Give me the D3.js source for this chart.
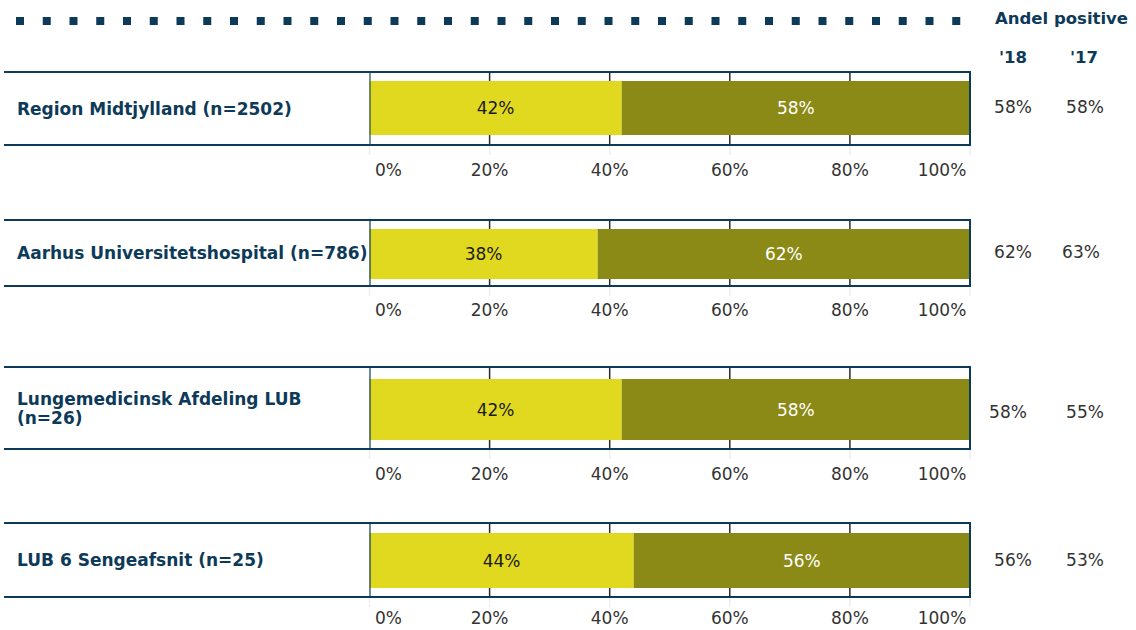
<!DOCTYPE html>
<html><head><meta charset="utf-8">
<script src="https://cdn.jsdelivr.net/npm/d3@7"></script>
<style>body{margin:0;background:#fff}svg{display:block}</style>
</head><body><svg id="c" width="1136" height="630"></svg>
<script>
const categories = [["Region Midtjylland (n=2502)"], ["Aarhus Universitetshospital (n=786)"], ["Lungemedicinsk Afdeling LUB", "(n=26)"], ["LUB 6 Sengeafsnit (n=25)"]];
const negative = [42, 38, 42, 44];
const positive = [58, 62, 58, 56];
const andel18 = [58, 62, 58, 56];
const andel17 = [58, 63, 55, 53];
const ticks = [0, 20, 40, 60, 80, 100];
const colHeaders = ["'18", "'17"];

// layout (pixels)
const panels = [
  {top: 72, bottom: 145, barTop: 81, barBot: 135, tickY: 176, dx: 0, dy: -2},
  {top: 220, bottom: 286, barTop: 229, barBot: 279, tickY: 316, dx: 0, dy: -1},
  {top: 367, bottom: 449, barTop: 379, barBot: 440, tickY: 480, dx: -5, dy: 4},
  {top: 523, bottom: 597, barTop: 533, barBot: 588, tickY: 624, dx: 0, dy: 0}
];
const navy = "#0d3a58", yellow = "#e1d91f", olive = "#8c8a17", txt = "#333";
const svg = d3.select("#c");
const x = d3.scaleLinear().domain([0, 100]).range([369.5, 970]);

// dotted header
const dots = d3.range(0, 36);
svg.selectAll("rect.dot").data(dots).enter().append("rect")
  .attr("x", i => 16 + i * 26.75).attr("y", 17).attr("width", 8).attr("height", 8)
  .attr("fill", navy);

svg.append("text").attr("x", 995).attr("y", 24).attr("fill", navy)
  .attr("font-family", "DejaVu Sans").attr("font-weight", "bold").attr("font-size", 16.5)
  .text("Andel positive");
svg.append("text").attr("x", 1013).attr("y", 63).attr("text-anchor", "middle").attr("fill", navy)
  .attr("font-family", "DejaVu Sans").attr("font-weight", "bold").attr("font-size", 16.5).text(colHeaders[0]);
svg.append("text").attr("x", 1084).attr("y", 63).attr("text-anchor", "middle").attr("fill", navy)
  .attr("font-family", "DejaVu Sans").attr("font-weight", "bold").attr("font-size", 16.5).text(colHeaders[1]);

panels.forEach((p, i) => {
  const g = svg.append("g");
  const y = d3.scaleBand().domain([0]).range([p.barTop, p.barBot]).padding(0);
  // gridlines
  g.selectAll("line.grid").data(ticks.slice(1, -1)).enter().append("line")
    .attr("x1", d => x(d)).attr("x2", d => x(d)).attr("y1", p.top).attr("y2", p.bottom)
    .attr("stroke", "#2b2b2b").attr("stroke-width", 1.5);
  // faint extension of gridlines under frame
  g.selectAll("line.ext").data(ticks).enter().append("line")
    .attr("x1", d => x(d)).attr("x2", d => x(d)).attr("y1", p.bottom).attr("y2", p.bottom + 10)
    .attr("stroke", "#eeeeee").attr("stroke-width", 1.5);
  // bars
  g.append("rect").attr("x", x(0)).attr("y", y(0)).attr("width", x(negative[i]) - x(0))
    .attr("height", y.bandwidth()).attr("fill", yellow);
  g.append("rect").attr("x", x(negative[i])).attr("y", y(0))
    .attr("width", x(negative[i] + positive[i]) - x(negative[i]))
    .attr("height", y.bandwidth()).attr("fill", olive);
  const cy = y(0) + y.bandwidth() / 2;
  g.append("text").attr("x", x(negative[i] / 2)).attr("y", cy).attr("dy", "0.36em")
    .attr("text-anchor", "middle").attr("font-family", "DejaVu Sans").attr("font-size", 17)
    .attr("fill", "#1a1a1a").text(negative[i] + "%");
  g.append("text").attr("x", x(negative[i] + positive[i] / 2)).attr("y", cy).attr("dy", "0.36em")
    .attr("text-anchor", "middle").attr("font-family", "DejaVu Sans").attr("font-size", 17)
    .attr("fill", "#fff").text(positive[i] + "%");
  // frame
  g.append("line").attr("x1", 4).attr("x2", 971).attr("y1", p.top).attr("y2", p.top)
    .attr("stroke", navy).attr("stroke-width", 2);
  g.append("line").attr("x1", 4).attr("x2", 971).attr("y1", p.bottom).attr("y2", p.bottom)
    .attr("stroke", navy).attr("stroke-width", 2);
  g.append("line").attr("x1", 370).attr("x2", 370).attr("y1", p.top).attr("y2", p.bottom)
    .attr("stroke", i === 0 ? "#1f4f4a" : navy).attr("stroke-width", 1.2);
  g.append("line").attr("x1", 970).attr("x2", 970).attr("y1", p.top).attr("y2", p.bottom)
    .attr("stroke", navy).attr("stroke-width", 2);
  // category label
  const lines = categories[i];
  const lh = 19;
  const ly = (p.top + p.bottom) / 2 - (lines.length - 1) * lh / 2;
  const t = g.append("text").attr("font-family", "DejaVu Sans").attr("font-weight", "bold")
    .attr("font-size", 17).attr("fill", navy);
  lines.forEach((l, k) => t.append("tspan").attr("x", 17).attr("y", ly + k * lh).attr("dy", "0.36em").text(l));
  // tick labels
  g.selectAll("text.tick").data(ticks).enter().append("text")
    .attr("x", d => d === 0 ? x(d) + 19 : d === 100 ? x(d) - 28 : x(d))
    .attr("y", p.tickY).attr("text-anchor", "middle").attr("font-family", "DejaVu Sans")
    .attr("font-size", 17).attr("fill", txt).text(d => d + "%");
  // andel columns
  const my = (p.top + p.bottom) / 2 + p.dy;
  g.append("text").attr("x", 1013 + p.dx).attr("y", my).attr("dy", "0.36em").attr("text-anchor", "middle")
    .attr("font-family", "DejaVu Sans").attr("font-size", 17).attr("fill", txt).text(andel18[i] + "%");
  g.append("text").attr("x", 1085 + (i === 1 ? -4 : 0)).attr("y", my).attr("dy", "0.36em").attr("text-anchor", "middle")
    .attr("font-family", "DejaVu Sans").attr("font-size", 17).attr("fill", txt).text(andel17[i] + "%");
});
</script></body></html>
